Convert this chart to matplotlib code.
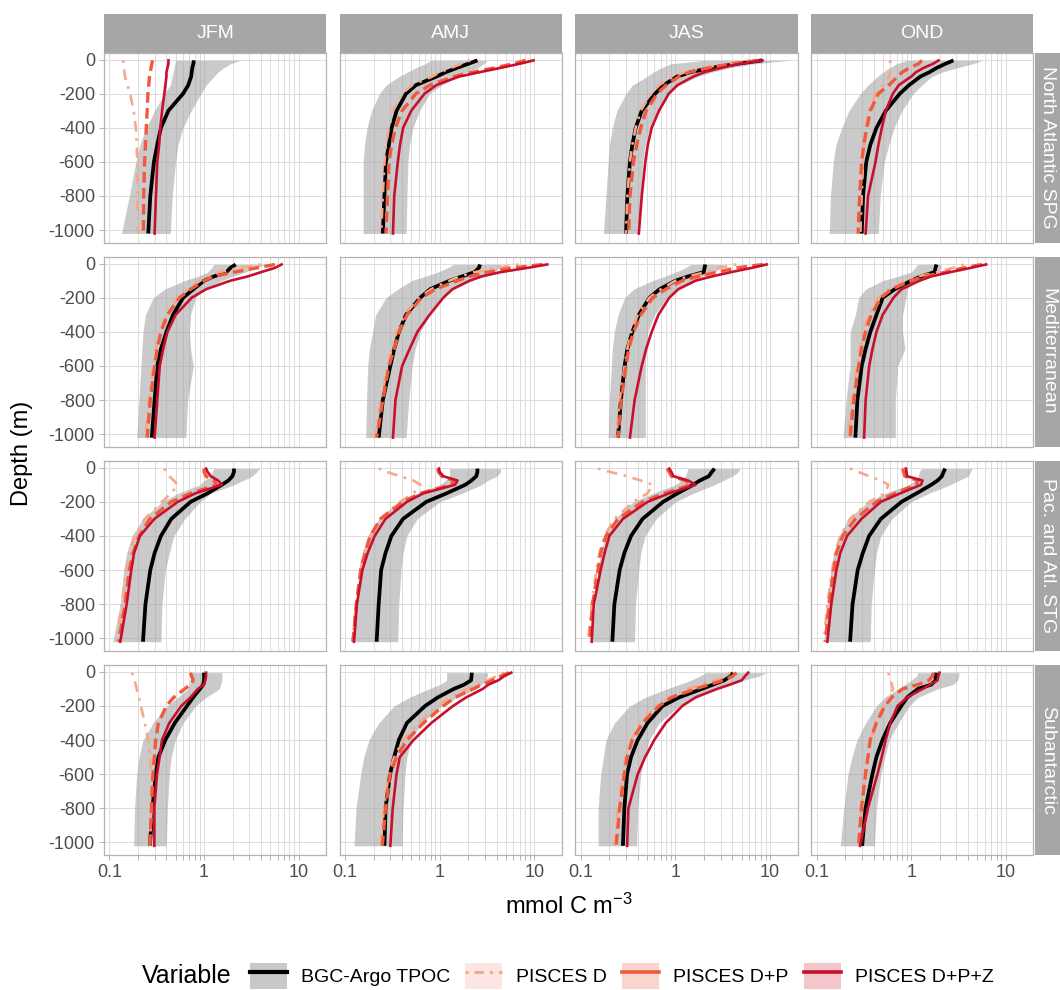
import matplotlib
matplotlib.use("Agg")
import matplotlib.pyplot as plt
from matplotlib.patches import Rectangle
from matplotlib.lines import Line2D
from matplotlib.ticker import NullLocator

plt.rcParams['font.family'] = ['Liberation Sans', 'DejaVu Sans']
plt.rcParams['mathtext.fontset'] = 'custom'
plt.rcParams['mathtext.rm'] = 'Liberation Sans'
plt.rcParams['mathtext.it'] = 'Liberation Sans:italic'

# ---------------- data ----------------
SEASONS = ["JFM", "AMJ", "JAS", "OND"]
REGIONS = ["North Atlantic SPG", "Mediterranean", "Pac. and Atl. STG", "Subantarctic"]
VARIABLES = ["BGC-Argo TPOC", "PISCES D", "PISCES D+P", "PISCES D+P+Z"]
DEPTH = [-5, -25, -50, -75, -100, -150, -200, -300, -400, -500, -600, -800, -1020]

# North Atlantic SPG (one list per season: JFM, AMJ, JAS, OND)
NASPG_ARGO = [[0.78, 0.77, 0.75, 0.74, 0.73, 0.68, 0.60, 0.42, 0.35, 0.32, 0.295, 0.27, 0.257],
              [2.5, 2.0, 1.5, 1.15, 0.92, 0.56, 0.44, 0.35, 0.31, 0.29, 0.27, 0.26, 0.25],
              [8.3, 4.5, 2.3, 1.43, 1.04, 0.75, 0.61, 0.44, 0.38, 0.35, 0.33, 0.31, 0.30],
              [2.8, 2.3, 1.85, 1.55, 1.25, 0.95, 0.76, 0.54, 0.43, 0.37, 0.335, 0.31, 0.30]]
NASPG_LO = [[0.5, 0.49, 0.48, 0.47, 0.46, 0.44, 0.38, 0.3, 0.245, 0.21, 0.19, 0.162, 0.134],
            [0.8, 0.7, 0.55, 0.45, 0.37, 0.27, 0.23, 0.19, 0.17, 0.16, 0.155, 0.155, 0.155],
            [2.0, 0.9, 0.7, 0.58, 0.5, 0.35, 0.3, 0.24, 0.215, 0.2, 0.194, 0.184, 0.173],
            [0.9, 0.7, 0.58, 0.5, 0.44, 0.35, 0.29, 0.22, 0.185, 0.16, 0.15, 0.14, 0.136]]
NASPG_HI = [[2.4, 1.9, 1.6, 1.4, 1.27, 1.05, 0.93, 0.73, 0.6, 0.53, 0.5, 0.46, 0.44],
            [3.2, 2.9, 2.5, 1.9, 1.5, 1.05, 0.78, 0.61, 0.52, 0.48, 0.46, 0.45, 0.44],
            [16, 6.8, 3.6, 2.4, 1.72, 1.09, 0.86, 0.64, 0.53, 0.48, 0.45, 0.43, 0.41],
            [5.6, 4.5, 3.0, 2.1, 1.65, 1.3, 1.05, 0.8, 0.66, 0.58, 0.52, 0.47, 0.45]]
NASPG_D = [[0.14, 0.14, 0.142, 0.144, 0.146, 0.155, 0.165, 0.18, 0.19, 0.194, 0.196, 0.198, 0.20],
           [2.1, 1.7, 1.3, 1.0, 0.83, 0.51, 0.40, 0.32, 0.29, 0.27, 0.26, 0.25, 0.24],
           [6.0, 3.5, 1.9, 1.25, 0.95, 0.67, 0.55, 0.43, 0.38, 0.35, 0.33, 0.31, 0.30],
           [0.6, 0.6, 0.6, 0.6, 0.58, 0.5, 0.42, 0.355, 0.33, 0.32, 0.31, 0.30, 0.29]]
NASPG_DP = [[0.285, 0.28, 0.275, 0.27, 0.265, 0.26, 0.255, 0.25, 0.245, 0.24, 0.235, 0.23, 0.228],
            [8.1, 6.0, 3.7, 2.2, 1.4, 0.79, 0.56, 0.40, 0.34, 0.31, 0.29, 0.28, 0.27],
            [7.6, 4.0, 2.2, 1.4, 1.09, 0.8, 0.64, 0.49, 0.43, 0.39, 0.36, 0.33, 0.32],
            [1.3, 1.2, 0.95, 0.8, 0.72, 0.58, 0.45, 0.37, 0.34, 0.315, 0.30, 0.285, 0.275]]
NASPG_DPZ = [[0.42, 0.42, 0.41, 0.40, 0.40, 0.39, 0.38, 0.36, 0.345, 0.335, 0.32, 0.31, 0.30],
             [9.8, 7.0, 4.3, 2.6, 1.6, 0.92, 0.69, 0.5, 0.41, 0.38, 0.36, 0.33, 0.32],
             [8.3, 4.8, 3.0, 2.0, 1.54, 1.05, 0.85, 0.67, 0.56, 0.51, 0.48, 0.44, 0.41],
             [1.95, 1.7, 1.34, 1.12, 1.0, 0.74, 0.64, 0.54, 0.49, 0.45, 0.42, 0.35, 0.33]]

# Mediterranean
MED_ARGO = [[2.16, 1.9, 1.72, 1.27, 1.0, 0.77, 0.6, 0.47, 0.40, 0.35, 0.32, 0.30, 0.28],
            [2.67, 2.59, 2.33, 1.72, 1.27, 0.79, 0.62, 0.44, 0.37, 0.33, 0.30, 0.25, 0.226],
            [2.07, 2.03, 1.99, 1.36, 1.0, 0.68, 0.53, 0.41, 0.35, 0.31, 0.29, 0.265, 0.247],
            [1.85, 1.81, 1.77, 1.27, 1.0, 0.67, 0.5, 0.43, 0.37, 0.33, 0.30, 0.27, 0.257]]
MED_LO = [[1.27, 1.2, 1.09, 0.85, 0.62, 0.38, 0.29, 0.24, 0.226, 0.22, 0.215, 0.205, 0.194],
          [1.4, 1.2, 0.95, 0.7, 0.5, 0.36, 0.27, 0.21, 0.195, 0.18, 0.173, 0.168, 0.165],
          [1.45, 1.27, 1.0, 0.77, 0.57, 0.36, 0.29, 0.247, 0.226, 0.215, 0.21, 0.2, 0.194],
          [1.18, 1.09, 1.0, 0.72, 0.5, 0.33, 0.278, 0.257, 0.226, 0.226, 0.226, 0.205, 0.19]]
MED_HI = [[4.4, 3.5, 2.76, 2.0, 1.54, 1.0, 0.81, 0.72, 0.70, 0.72, 0.77, 0.67, 0.64],
          [4.4, 4.2, 3.85, 3.0, 2.16, 1.41, 1.04, 0.78, 0.62, 0.55, 0.51, 0.47, 0.44],
          [3.2, 3.0, 2.59, 1.9, 1.54, 1.09, 0.81, 0.6, 0.51, 0.49, 0.48, 0.48, 0.48],
          [2.07, 2.07, 1.99, 1.45, 1.09, 0.906, 0.88, 0.81, 0.81, 0.86, 0.72, 0.68, 0.68]]
MED_D = [[4.0, 2.33, 1.45, 1.09, 0.91, 0.67, 0.53, 0.40, 0.34, 0.31, 0.29, 0.26, 0.24],
         [6.8, 4.0, 2.33, 1.63, 1.27, 0.81, 0.6, 0.43, 0.35, 0.31, 0.28, 0.24, 0.205],
         [4.4, 2.9, 2.07, 1.36, 1.0, 0.7, 0.53, 0.4, 0.34, 0.31, 0.29, 0.257, 0.236],
         [3.6, 2.76, 1.9, 1.18, 0.906, 0.575, 0.449, 0.359, 0.308, 0.288, 0.267, 0.236, 0.215]]
MED_DP = [[5.6, 3.6, 2.07, 1.27, 1.0, 0.72, 0.55, 0.41, 0.35, 0.32, 0.30, 0.27, 0.25],
          [12.2, 6.0, 3.2, 2.07, 1.54, 0.9, 0.64, 0.45, 0.37, 0.33, 0.29, 0.25, 0.215],
          [8.4, 4.4, 2.76, 1.72, 1.18, 0.79, 0.575, 0.43, 0.36, 0.32, 0.3, 0.267, 0.247],
          [5.6, 3.6, 2.33, 1.36, 1.0, 0.62, 0.48, 0.378, 0.329, 0.298, 0.278, 0.247, 0.226]]
MED_DPZ = [[6.6, 5.6, 4.0, 2.9, 1.9, 1.05, 0.74, 0.5, 0.41, 0.37, 0.34, 0.32, 0.30],
           [13.7, 8.4, 4.4, 2.76, 2.07, 1.36, 1.09, 0.78, 0.58, 0.48, 0.4, 0.34, 0.32],
           [9.2, 6.4, 3.85, 2.43, 1.63, 1.07, 0.86, 0.66, 0.56, 0.49, 0.44, 0.37, 0.33],
           [6.2, 4.25, 2.59, 1.63, 1.23, 0.79, 0.65, 0.5, 0.43, 0.39, 0.36, 0.33, 0.318]]

# Pacific and Atlantic subtropical gyres
STG_ARGO = [[2.07, 2.07, 1.99, 1.81, 1.54, 1.09, 0.72, 0.45, 0.35, 0.30, 0.27, 0.24, 0.226],
            [2.5, 2.5, 2.43, 2.16, 1.86, 1.18, 0.72, 0.409, 0.308, 0.267, 0.24, 0.226, 0.215],
            [2.59, 2.42, 2.25, 1.81, 1.54, 1.05, 0.74, 0.449, 0.339, 0.288, 0.257, 0.226, 0.215],
            [2.29, 2.2, 2.11, 1.9, 1.63, 1.14, 0.79, 0.478, 0.359, 0.308, 0.272, 0.24, 0.226]]
STG_LO = [[1.27, 1.22, 1.18, 1.0, 0.906, 0.527, 0.359, 0.226, 0.173, 0.152, 0.141, 0.13, 0.108],
          [1.27, 1.27, 1.27, 1.14, 1.0, 0.575, 0.359, 0.226, 0.173, 0.152, 0.141, 0.13, 0.119],
          [1.36, 1.32, 1.27, 1.14, 1.0, 0.575, 0.359, 0.226, 0.184, 0.162, 0.152, 0.141, 0.13],
          [1.27, 1.22, 1.18, 1.09, 0.953, 0.527, 0.349, 0.215, 0.173, 0.152, 0.141, 0.13, 0.119]]
STG_HI = [[3.9, 3.6, 3.2, 2.59, 2.07, 1.18, 0.906, 0.624, 0.478, 0.429, 0.389, 0.359, 0.349],
          [4.4, 4.4, 4.0, 3.2, 2.76, 1.72, 1.0, 0.575, 0.449, 0.409, 0.389, 0.369, 0.359],
          [4.8, 4.6, 4.0, 3.2, 2.59, 1.54, 1.0, 0.624, 0.478, 0.429, 0.409, 0.378, 0.369],
          [4.4, 4.25, 4.0, 3.2, 2.59, 1.54, 1.0, 0.624, 0.478, 0.429, 0.409, 0.378, 0.369]]
STG_D = [[0.378, 0.399, 0.429, 0.478, 0.527, 0.449, 0.359, 0.236, 0.184, 0.162, 0.152, 0.135, 0.119],
         [0.226, 0.278, 0.378, 0.527, 0.624, 0.527, 0.378, 0.236, 0.184, 0.157, 0.146, 0.13, 0.119],
         [0.152, 0.205, 0.308, 0.429, 0.575, 0.507, 0.359, 0.226, 0.178, 0.157, 0.146, 0.13, 0.119],
         [0.226, 0.278, 0.359, 0.478, 0.575, 0.527, 0.359, 0.226, 0.178, 0.157, 0.146, 0.13, 0.119]]
STG_DP = [[1.0, 1.0, 1.05, 1.27, 1.36, 0.72, 0.45, 0.267, 0.205, 0.178, 0.162, 0.146, 0.125],
          [0.95, 0.97, 1.05, 1.41, 1.32, 0.624, 0.409, 0.236, 0.184, 0.162, 0.146, 0.131, 0.121],
          [0.813, 0.86, 0.906, 1.27, 1.45, 0.766, 0.449, 0.247, 0.184, 0.162, 0.152, 0.133, 0.124],
          [0.813, 0.83, 0.86, 1.18, 1.13, 0.672, 0.429, 0.257, 0.189, 0.162, 0.152, 0.135, 0.124]]
STG_DPZ = [[1.05, 1.09, 1.18, 1.41, 1.54, 0.81, 0.527, 0.298, 0.21, 0.182, 0.17, 0.152, 0.13],
           [0.98, 1.0, 1.09, 1.54, 1.45, 0.672, 0.449, 0.267, 0.205, 0.173, 0.152, 0.133, 0.124],
           [0.86, 0.906, 0.953, 1.36, 1.63, 0.86, 0.507, 0.278, 0.2, 0.178, 0.162, 0.137, 0.13],
           [0.88, 0.89, 0.906, 1.32, 1.27, 0.766, 0.478, 0.298, 0.21, 0.178, 0.162, 0.143, 0.13]]

# Subantarctic
SANT_ARGO = [[1.0, 1.0, 1.0, 0.98, 0.906, 0.766, 0.66, 0.49, 0.389, 0.329, 0.308, 0.285, 0.267],
             [2.18, 2.17, 2.14, 1.81, 1.41, 0.953, 0.7, 0.449, 0.369, 0.329, 0.298, 0.267, 0.26],
             [4.05, 3.85, 3.27, 2.5, 1.9, 1.09, 0.73, 0.507, 0.399, 0.339, 0.308, 0.288, 0.278],
             [1.83, 1.82, 1.81, 1.63, 1.18, 0.906, 0.786, 0.6, 0.497, 0.429, 0.389, 0.329, 0.303]]
SANT_LO = [[0.719, 0.719, 0.719, 0.7, 0.672, 0.527, 0.409, 0.288, 0.226, 0.205, 0.194, 0.184, 0.18],
           [1.18, 1.18, 1.18, 1.0, 0.766, 0.478, 0.329, 0.226, 0.178, 0.157, 0.146, 0.13, 0.124],
           [2.07, 1.81, 1.45, 1.09, 0.813, 0.478, 0.329, 0.226, 0.184, 0.173, 0.162, 0.152, 0.152],
           [1.18, 1.14, 1.0, 0.86, 0.719, 0.527, 0.429, 0.329, 0.267, 0.236, 0.215, 0.194, 0.178]]
SANT_HI = [[1.54, 1.54, 1.54, 1.5, 1.45, 1.05, 0.813, 0.6, 0.497, 0.449, 0.429, 0.409, 0.399],
           [3.19, 3.19, 3.02, 2.76, 2.42, 1.54, 1.05, 0.643, 0.497, 0.449, 0.429, 0.409, 0.399],
           [9.2, 7.6, 5.2, 3.6, 2.76, 1.54, 1.09, 0.672, 0.527, 0.468, 0.429, 0.399, 0.389],
           [3.19, 3.19, 3.1, 2.76, 1.9, 1.18, 0.953, 0.738, 0.585, 0.527, 0.478, 0.429, 0.409]]
SANT_D = [[0.173, 0.178, 0.184, 0.189, 0.194, 0.205, 0.215, 0.236, 0.257, 0.267, 0.278, 0.278, 0.267],
          [4.8, 4.0, 3.2, 2.42, 1.98, 1.27, 0.953, 0.6, 0.409, 0.329, 0.288, 0.257, 0.236],
          [3.77, 3.35, 2.59, 1.9, 1.36, 0.86, 0.624, 0.429, 0.339, 0.298, 0.278, 0.247, 0.226],
          [0.575, 0.585, 0.604, 0.624, 0.643, 0.575, 0.507, 0.429, 0.369, 0.349, 0.329, 0.298, 0.278]]
SANT_DP = [[0.719, 0.74, 0.766, 0.719, 0.624, 0.478, 0.399, 0.329, 0.308, 0.298, 0.288, 0.278, 0.267],
           [5.4, 4.42, 3.6, 2.76, 2.25, 1.45, 1.09, 0.672, 0.449, 0.349, 0.298, 0.267, 0.247],
           [4.42, 4.02, 3.19, 2.25, 1.63, 0.906, 0.672, 0.449, 0.349, 0.308, 0.288, 0.257, 0.236],
           [1.72, 1.68, 1.54, 1.18, 0.813, 0.624, 0.527, 0.429, 0.369, 0.349, 0.329, 0.298, 0.278]]
SANT_DPZ = [[1.05, 1.05, 1.03, 1.0, 0.86, 0.719, 0.575, 0.429, 0.359, 0.339, 0.318, 0.298, 0.298],
            [5.7, 4.8, 4.15, 3.27, 2.85, 1.9, 1.38, 0.813, 0.527, 0.378, 0.349, 0.318, 0.3],
            [5.87, 5.45, 5.0, 3.77, 2.76, 1.63, 1.18, 0.79, 0.596, 0.478, 0.399, 0.318, 0.308],
            [1.99, 1.94, 1.9, 1.59, 1.32, 0.906, 0.719, 0.6, 0.537, 0.488, 0.44, 0.349, 0.288]]

ROW_DATA = [
    (NASPG_ARGO, NASPG_LO, NASPG_HI, NASPG_D, NASPG_DP, NASPG_DPZ),
    (MED_ARGO, MED_LO, MED_HI, MED_D, MED_DP, MED_DPZ),
    (STG_ARGO, STG_LO, STG_HI, STG_D, STG_DP, STG_DPZ),
    (SANT_ARGO, SANT_LO, SANT_HI, SANT_D, SANT_DP, SANT_DPZ),
]

X_MAJOR = [0.1, 1, 10]
Y_TICKS = [-1000, -800, -600, -400, -200, 0]

# ---------------- styles ----------------
C_ARGO = "black"
C_D = "#F9A68A"
C_DP = "#EF5A3C"
C_DPZ = "#C8102E"
C_RIB = "#A0A0A0"
STRIP = "#A6A6A6"
BORDER = "#B3B3B3"
GRID = "#DCDCDC"

W, H = 1060, 990
fig = plt.figure(figsize=(W / 100, H / 100), dpi=100)


def fx(x):
    return x / W


def fy(y):
    return 1 - y / H


LEFTS = [104, 339.7, 575.4, 811.1]
PW = 222.3
TOPS = [52.7, 256.8, 460.9, 665.0]
PH = 190.0

xticks = []
for dec in X_MAJOR:
    for m in range(1, 10):
        v = m * dec
        if v < 19.6:
            xticks.append(v)
xlabels = []
for v in xticks:
    if abs(v - 0.1) < 1e-9:
        xlabels.append("0.1")
    elif abs(v - 1) < 1e-9:
        xlabels.append("1")
    elif abs(v - 10) < 1e-9:
        xlabels.append("10")
    else:
        xlabels.append("")

for r in range(4):
    argo, lo, hi, d, dp, dpz = ROW_DATA[r]
    for c in range(4):
        L, T = LEFTS[c], TOPS[r]
        ax = fig.add_axes([fx(L), fy(T + PH), PW / W, PH / H])
        ax.set_xscale("log")
        ax.set_xlim(0.0875, 19.6)
        ax.set_ylim(-1074, 40)
        ax.set_xticks(xticks)
        ax.xaxis.set_minor_locator(NullLocator())
        ax.set_yticks(Y_TICKS)
        ax.yaxis.set_minor_locator(NullLocator())
        ax.grid(True, which="major", color=GRID, lw=0.7)
        ax.set_axisbelow(True)
        for s in ax.spines.values():
            s.set_color(BORDER)
            s.set_linewidth(0.9)
        ax.tick_params(length=3.5, width=0.7, color=BORDER, labelsize=13,
                       labelcolor="#4D4D4D", pad=3)
        if r == 3:
            ax.set_xticklabels(xlabels)
        else:
            ax.set_xticklabels([""] * len(xticks))
            ax.tick_params(axis="x", bottom=False)
        if c == 0:
            ax.set_yticklabels([str(t) for t in Y_TICKS])
        else:
            ax.set_yticklabels([""] * len(Y_TICKS))
            ax.tick_params(axis="y", left=False)

        ax.fill_betweenx(DEPTH, lo[c], hi[c], color=C_RIB, alpha=0.55, lw=0, zorder=1)
        ax.plot(argo[c], DEPTH, color=C_ARGO, lw=2.7, zorder=3, solid_capstyle="butt")
        ax.plot(d[c], DEPTH, color=C_D, lw=1.9, dashes=(1, 2.5, 4, 2.5), zorder=4)
        ax.plot(dp[c], DEPTH, color=C_DP, lw=2.4, dashes=(3.2, 1.6), zorder=5)
        ax.plot(dpz[c], DEPTH, color=C_DPZ, lw=1.9, zorder=6)

        if r == 0:
            fig.add_artist(Rectangle((fx(L), fy(T)), PW / W, (T - 14) / H,
                                     transform=fig.transFigure, facecolor=STRIP,
                                     edgecolor="none"))
            fig.text(fx(L + PW / 2), fy((T + 14) / 2), SEASONS[c], color="white",
                     fontsize=14, ha="center", va="center")
        if c == 3:
            xs = L + PW + 1.2
            fig.add_artist(Rectangle((fx(xs), fy(T + PH)), (W - xs) / W, PH / H,
                                     transform=fig.transFigure, facecolor=STRIP,
                                     edgecolor="none"))
            fig.text(fx(xs + 13), fy(T + PH / 2), REGIONS[r], color="white",
                     fontsize=14, rotation=-90, ha="center", va="center")

fig.text(fx(22), fy((TOPS[0] + TOPS[3] + PH) / 2), "Depth (m)", rotation=90,
         fontsize=17, ha="center", va="center")
fig.text(fx((LEFTS[0] + LEFTS[3] + PW) / 2), fy(906), r"mmol C m$^{-3}$",
         fontsize=17, ha="center", va="center")

# legend
fig.text(fx(142), fy(976), "Variable", fontsize=18, ha="left", va="center")
key_fill = ["#C8C8C8", "#FDE6E1", "#FAD4CF", "#F3C6CA"]
key_lines = [
    Line2D([], [], color=C_ARGO, lw=3.0),
    Line2D([], [], color=C_D, lw=2.2, dashes=(1, 2.0, 3, 2.0)),
    Line2D([], [], color=C_DP, lw=2.6),
    Line2D([], [], color=C_DPZ, lw=2.6),
]
handles = [(Rectangle((0, 0), 1, 1, facecolor=f, edgecolor="none"), l)
           for f, l in zip(key_fill, key_lines)]
fig.legend(handles, VARIABLES, ncol=4, loc="center left",
           bbox_to_anchor=(fx(250), fy(976)), frameon=False, fontsize=14,
           handlelength=1.9, handleheight=1.75, handletextpad=0.72,
           columnspacing=0.78, borderpad=0, borderaxespad=0)

fig.savefig("out.png", dpi=100)
